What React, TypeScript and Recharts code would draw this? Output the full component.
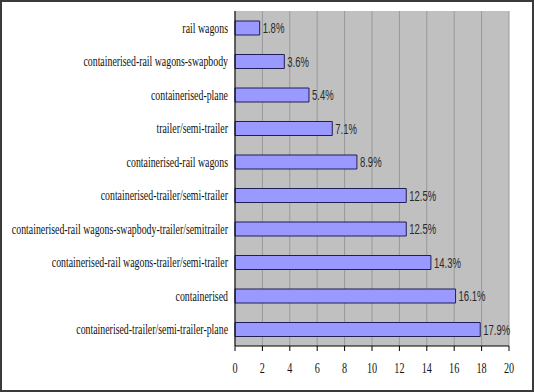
import { Bar, BarChart, CartesianGrid, LabelList, ReferenceLine, XAxis, YAxis } from "recharts";

const categories = [
  "rail wagons",
  "containerised-rail wagons-swapbody",
  "containerised-plane",
  "trailer/semi-trailer",
  "containerised-rail wagons",
  "containerised-trailer/semi-trailer",
  "containerised-rail wagons-swapbody-trailer/semitrailer",
  "containerised-rail wagons-trailer/semi-trailer",
  "containerised",
  "containerised-trailer/semi-trailer-plane",
];
const shares = [1.8, 3.6, 5.4, 7.1, 8.9, 12.5, 12.5, 14.3, 16.1, 17.9];
const xTicks = [0, 2, 4, 6, 8, 10, 12, 14, 16, 18, 20];
const edgeTicks = [0, 1, 2, 3, 4, 5, 6, 7, 8, 9, 10];

const data = categories.map((name, i) => ({ name, value: shares[i] }));

const SERIF = "'Liberation Serif', serif";
const SANS = "'Liberation Sans', sans-serif";

function CategoryTick(props: any) {
  const { x, y, payload } = props;
  return (
    <g transform={`translate(${x},${y})`}>
      <text
        transform="scale(0.68,1)"
        textAnchor="end"
        dy={5}
        style={{ fontFamily: SERIF, fontSize: 14.5 }}
        fill="#111111"
      >
        {payload.value}
      </text>
    </g>
  );
}

function NumberTick(props: any) {
  const { x, y, payload } = props;
  return (
    <g transform={`translate(${x},${y})`}>
      <text
        transform="scale(0.68,1)"
        textAnchor="middle"
        dy={20}
        style={{ fontFamily: SERIF, fontSize: 15 }}
        fill="#111111"
      >
        {payload.value}
      </text>
    </g>
  );
}

function ValueLabel(props: any) {
  const { x, y, width, height, value } = props;
  const lx = x + width + 3;
  const ly = y + height / 2;
  return (
    <g transform={`translate(${lx},${ly})`}>
      <text
        transform="scale(0.68,1)"
        textAnchor="start"
        dy={5}
        style={{ fontFamily: SANS, fontSize: 14 }}
        fill="#2a2a2a"
      >
        {`${Number(value).toFixed(1)}%`}
      </text>
    </g>
  );
}

export default function App() {
  return (
    <div style={{ position: "absolute", left: 0, top: 0, width: 534, height: 392, background: "#ffffff" }}>
      <BarChart
        width={534}
        height={392}
        data={data}
        layout="vertical"
        margin={{ top: 11, right: 25, left: 0, bottom: 0 }}
        barCategoryGap={0}
      >
        <CartesianGrid
          horizontal={false}
          fill="#C0C0C0"
          fillOpacity={1}
          stroke="#999999"
          strokeWidth={1}
        />
        <XAxis
          type="number"
          domain={[0, 20]}
          ticks={xTicks}
          height={46}
          axisLine={{ stroke: "#000000" }}
          tickLine={{ stroke: "#000000" }}
          tickSize={5}
          tickMargin={2}
          tick={<NumberTick />}
          interval={0}
        />
        <YAxis
          yAxisId="edges"
          type="number"
          domain={[0, 10]}
          ticks={edgeTicks}
          width={0}
          tick={false}
          tickSize={4}
          tickLine={{ stroke: "#000000" }}
          axisLine={false}
        />
        <YAxis
          type="category"
          dataKey="name"
          width={235}
          tickSize={0}
          tickMargin={7}
          axisLine={{ stroke: "#000000" }}
          tickLine={false}
          tick={<CategoryTick />}
          interval={0}
        />
        <ReferenceLine yAxisId="edges" y={10} stroke="#9a9a9a" />
        <Bar
          dataKey="value"
          fill="#9999FF"
          stroke="#1f1f55"
          strokeWidth={1}
          barSize={14}
          isAnimationActive={false}
        >
          <LabelList dataKey="value" content={<ValueLabel />} />
        </Bar>
      </BarChart>
      <div
        style={{
          position: "absolute",
          left: 0,
          top: 0,
          width: 534,
          height: 392,
          boxSizing: "border-box",
          border: "2px solid #3a3a3a",
          pointerEvents: "none",
        }}
      />
    </div>
  );
}
